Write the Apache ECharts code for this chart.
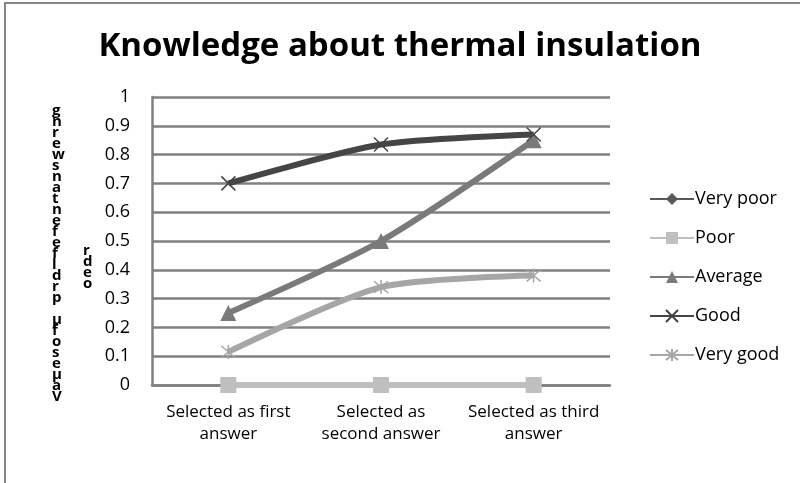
<!DOCTYPE html>
<html>
<head>
<meta charset="utf-8">
<script src="https://cdn.jsdelivr.net/npm/echarts@6/dist/echarts.min.js"></script>
<style>
  html, body { margin: 0; padding: 0; background: #fff; }
  #chart { width: 800px; height: 483px; }
</style>
</head>
<body>
<div id="chart"></div>
<script>
const categories = ['Selected as first\nanswer', 'Selected as\nsecond answer', 'Selected as third\nanswer']
const yTicks = [0, 0.1, 0.2, 0.3, 0.4, 0.5, 0.6, 0.7, 0.8, 0.9, 1]
const veryPoor = [0, 0, 0]
const poor = [0, 0, 0]
const average = [0.25, 0.5, 0.85]
const good = [0.7, 0.835, 0.87]
const veryGood = [0.115, 0.34, 0.38]
// garbled axis title as it appears in the picture
const axisColA = ['g', 'n', 'r', 'e', 'w', 's', 'n', 'a', 't', 'n', 'e', 'f', 'e', 'f', 'l', 'd', 'r', 'p', ' ', 'μ', 'f', 'o', 's', 'e', 'μ', 'a', 'V']
const axisColB = ['r', 'd', 'e', 'o']

const crossPath = 'path://M0,0L10,10M10,0L0,10'
const starPath = 'path://M0,0L10,10M10,0L0,10M5,-1L5,11'

const font = '"Open Sans", "Noto Sans", sans-serif'

const mkSeries = (name, data, color, symbol, size, stroke) => ({
  name,
  type: 'line',
  data,
  smooth: 0.25,
  symbol,
  symbolSize: size,
  lineStyle: { color, width: 6 },
  itemStyle: stroke
    ? { color: 'rgba(0,0,0,0)', borderColor: color, borderWidth: 1.5 }
    : { color },
  emphasis: { disabled: true }
})

const myChart = echarts.init(document.getElementById('chart'))
myChart.setOption({
  animation: false,
  textStyle: { fontFamily: font },
  title: {
    text: 'Knowledge about thermal insulation',
    left: 'center',
    top: 25,
    textStyle: { fontSize: 33, fontWeight: 'bold', color: '#000', fontFamily: font }
  },
  grid: { left: 152, right: 190, top: 97, bottom: 98 },
  legend: {
    orient: 'vertical',
    left: 644,
    top: 185,
    itemGap: 21,
    itemWidth: 44,
    itemHeight: 15,
    textStyle: { fontSize: 18, color: '#000', fontFamily: font, padding: [0, 0, 0, -4] },
    data: ['Very poor', 'Poor', 'Average', 'Good', 'Very good']
  },
  xAxis: {
    type: 'category',
    data: categories,
    boundaryGap: true,
    axisLine: { lineStyle: { color: '#808080', width: 2.5 } },
    axisTick: { show: false },
    axisLabel: { interval: 0, hideOverlap: false, fontSize: 17, color: '#000', lineHeight: 22, margin: 16 }
  },
  yAxis: {
    type: 'value',
    min: yTicks[0],
    max: yTicks[yTicks.length - 1],
    interval: 0.1,
    axisLine: { show: true, lineStyle: { color: '#808080', width: 2.5 } },
    axisTick: { show: false },
    splitLine: { lineStyle: { color: '#808080', width: 2.5 } },
    axisLabel: {
      fontSize: 18, color: '#000', margin: 22,
      formatter: v => String(Math.round(v * 10) / 10)
    }
  },
  graphic: [
    {
      type: 'rect',
      shape: { x: 5, y: 3, width: 800, height: 500 },
      style: { fill: 'none', stroke: '#868686', lineWidth: 2 },
      silent: true
    },
    {
      type: 'text',
      left: 52,
      top: 103,
      style: {
        text: axisColA.join('\n'),
        fontSize: 15,
        lineHeight: 11,
        fontWeight: 'bold',
        fill: '#000',
        fontFamily: font
      }
    },
    {
      type: 'text',
      left: 83,
      top: 243,
      style: {
        text: axisColB.join('\n'),
        fontSize: 15,
        lineHeight: 11,
        fontWeight: 'bold',
        fill: '#000',
        fontFamily: font
      }
    }
  ],
  series: [
    mkSeries('Very poor', veryPoor, '#595959', 'diamond', 13, false),
    mkSeries('Poor', poor, '#bfbfbf', 'rect', 16, false),
    mkSeries('Average', average, '#7a7a7a', 'triangle', 16, false),
    mkSeries('Good', good, '#454545', crossPath, 14, true),
    mkSeries('Very good', veryGood, '#a6a6a6', starPath, 14, true)
  ]
})
window.addEventListener('resize', () => myChart.resize(), false)
</script>
</body>
</html>
